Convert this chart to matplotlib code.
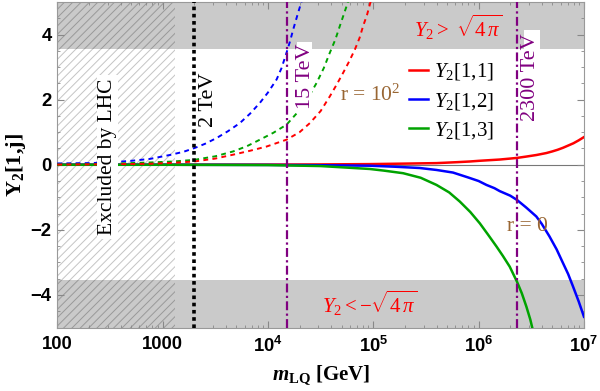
import numpy as np
import matplotlib
matplotlib.use("Agg")
import matplotlib.pyplot as plt
from matplotlib.patches import Rectangle
from matplotlib.ticker import FixedLocator, FixedFormatter, LogLocator, MultipleLocator, NullFormatter

plt.rcParams['mathtext.fontset'] = 'custom'
plt.rcParams['mathtext.rm'] = 'Liberation Serif'
plt.rcParams['mathtext.it'] = 'Liberation Serif:italic'
plt.rcParams['mathtext.bf'] = 'Liberation Sans:bold'
plt.rcParams['mathtext.bfit'] = 'Liberation Serif:italic:bold'
plt.rcParams['mathtext.sf'] = 'Liberation Serif:bold'
plt.rcParams['hatch.linewidth'] = 0.7

# ---------------- data ----------------
# r = 0 (solid)
m_r0_11 = [100, 1000, 1e4, 3.16e4, 9.27e4, 2.0e5, 3.98e5, 6.31e5, 8.24e5, 1e6, 1.259e6, 1.585e6,
           1.995e6, 2.31e6, 2.818e6, 3.548e6, 4.40e6, 5.01e6, 5.62e6, 6.31e6, 7.08e6, 7.94e6, 8.91e6, 1e7]
y_r0_11 = [0, 0, 0.005, 0.01, 0.02, 0.035, 0.05, 0.08, 0.10, 0.12, 0.14, 0.16,
           0.19, 0.21, 0.25, 0.30, 0.36, 0.41, 0.46, 0.52, 0.59, 0.66, 0.75, 0.85]

m_r0_12 = [100, 1000, 1e4, 3.16e4, 9.27e4, 1.585e5, 2.76e5, 3.98e5, 5.71e5, 7.94e5, 1e6, 1.186e6, 1.413e6,
           1.585e6, 1.995e6, 2.31e6, 2.818e6, 3.53e6, 3.98e6, 4.70e6, 5.50e6, 6.32e6, 7.08e6, 7.87e6, 8.91e6, 1e7]
y_r0_12 = [0, 0, -0.005, -0.015, -0.03, -0.06, -0.10, -0.16, -0.24, -0.39, -0.50, -0.62, -0.72,
           -0.81, -0.95, -1.08, -1.31, -1.59, -1.82, -2.2, -2.6, -3.02, -3.36, -3.74, -4.2, -4.67]

m_r0_13 = [100, 1000, 1e4, 3.16e4, 9.27e4, 1.259e5, 1.92e5, 2.818e5, 3.98e5, 5.25e5, 6.62e5, 8.32e5, 1.026e6,
           1.230e6, 1.476e6, 1.698e6, 1.972e6, 2.31e6, 2.57e6, 2.84e6, 3.09e6, 3.236e6]
y_r0_13 = [0, 0, -0.01, -0.04, -0.13, -0.18, -0.26, -0.40, -0.62, -0.85, -1.13, -1.45, -1.8,
           -2.15, -2.51, -2.8, -3.13, -3.59, -3.95, -4.36, -4.75, -5.02]

# r = 10^2 (dashed)
m_r2_12 = [100, 200, 316, 501, 759, 1172, 1585, 1995, 2512, 3251, 4169, 5408, 6761, 8375, 1e4,
           12078, 13490, 15000, 16220, 17338, 19050, 20840]
y_r2_12 = [0.04, 0.05, 0.07, 0.12, 0.18, 0.30, 0.40, 0.51, 0.64, 0.82, 1.03, 1.28, 1.57, 1.90, 2.22,
           2.62, 2.98, 3.44, 3.8, 4.15, 4.6, 5.02]

m_r2_13 = [100, 316, 759, 1259, 1995, 3162, 4677, 6310, 8375, 11220, 15000, 20090, 23990, 28900,
           33880, 38640, 43650, 48080, 55720, 57540]
y_r2_13 = [0.01, 0.03, 0.07, 0.10, 0.15, 0.26, 0.41, 0.57, 0.77, 0.98, 1.23, 1.69, 2.05, 2.51,
           2.97, 3.44, 3.85, 4.26, 4.87, 5.02]

m_r2_11 = [100, 316, 759, 1259, 1995, 3162, 4677, 6761, 9705, 15000, 19950, 25000, 31620, 38640,
           44670, 51640, 58880, 66830, 74130, 79980, 87100, 92680, 94410]
y_r2_11 = [0.005, 0.015, 0.03, 0.06, 0.10, 0.19, 0.31, 0.43, 0.56, 0.77, 1.0, 1.28, 1.65, 2.1,
           2.45, 2.82, 3.17, 3.54, 3.9, 4.26, 4.6, 4.92, 5.02]

legend_labels = [r'$Y_2$[1,1]', r'$Y_2$[1,2]', r'$Y_2$[1,3]']
m_lhc = 1300.0
m_lines = [2000.0, 15000.0, 2.3e6]
pert = np.sqrt(4 * np.pi)
xtick_vals = [100, 1000, 1e4, 1e5, 1e6, 1e7]
xtick_labels = ['100', '1000', r'$\mathbf{10^{4}}$', r'$\mathbf{10^{5}}$', r'$\mathbf{10^{6}}$', r'$\mathbf{10^{7}}$']
ytick_vals = [-4, -2, 0, 2, 4]
ytick_labels = ['\u22124', '\u22122', '0', '2', '4']

RED = '#ff0000'
BLUE = '#0000ff'
GREEN = '#00a300'
PURPLE = '#800080'
BROWN = '#996633'
SERIF = 'Liberation Serif'
W, H = 600, 391

fig = plt.figure(figsize=(6, 3.91), dpi=100)
ax = fig.add_axes([0.0955, 0.1624, 0.8778, 0.8325])
ax.set_xscale('log')
ax.set_xlim(100, 1e7)
ax.set_ylim(-5, 5)

# bands
ax.axhspan(pert, 5, color='#cacaca', lw=0, zorder=0)
ax.axhspan(-5, -pert, color='#cacaca', lw=0, zorder=0)
# hatched LHC region (light on white, darker on the grey bands)
ax.fill_between([100, m_lhc], -pert, pert, facecolor='none', edgecolor='#c4c4c4',
                hatch='////', lw=0, zorder=0.5)
ax.fill_between([100, m_lhc], pert, 5, facecolor='none', edgecolor='#999999',
                hatch='////', lw=0, zorder=0.6)
ax.fill_between([100, m_lhc], -5, -pert, facecolor='none', edgecolor='#999999',
                hatch='////', lw=0, zorder=0.6)

ax.axhline(0, color='#777777', lw=0.8, zorder=1)

# curves
ax.plot(m_r0_11, y_r0_11, color=RED, lw=1.8, zorder=3, label=legend_labels[0])
ax.plot(m_r0_12, y_r0_12, color=BLUE, lw=1.8, zorder=3, label=legend_labels[1])
ax.plot(m_r0_13, y_r0_13, color=GREEN, lw=1.8, zorder=3, label=legend_labels[2])
dash = (0, (2.5, 2.2))
ax.plot(m_r2_12, y_r2_12, color=BLUE, lw=1.4, ls=dash, zorder=3)
ax.plot(m_r2_13, y_r2_13, color=GREEN, lw=1.4, ls=dash, zorder=3)
ax.plot(m_r2_11, y_r2_11, color=RED, lw=1.4, ls=dash, zorder=3)

# vertical lines
ax.axvline(m_lines[0], color='black', lw=2.6, ls=(0, (1, 1)), zorder=4)
ax.axvline(m_lines[1], color=PURPLE, lw=1.6, ls=(0, (4, 1.5, 1, 1.5)), zorder=4)
ax.axvline(m_lines[2], color=PURPLE, lw=1.6, ls=(0, (4, 1.5, 1, 1.5)), zorder=4)

# white label boxes (pixel boxes: x0, x1, y0, y1 from top)
def white_box(x0, x1, y0, y1):
    r = Rectangle((x0 / W, 1 - y1 / H), (x1 - x0) / W, (y1 - y0) / H, transform=fig.transFigure,
                  facecolor='white', edgecolor='none', zorder=4.5, clip_on=False)
    ax.add_patch(r)

white_box(97, 118, 75, 239)
white_box(296.7, 312.3, 42, 114)
white_box(523.5, 540, 30, 126)

# texts
ax.text(297, 0.25, 'Excluded by LHC', rotation=90, ha='center', va='center',
        family=SERIF, fontsize=15.5, zorder=5)
ax.text(2750, 2.0, '2 TeV', rotation=90, ha='center', va='center', family=SERIF, fontsize=16, zorder=5)
ax.text(2.25e4, 2.71, '15 TeV', rotation=90, ha='center', va='center', family=SERIF,
        fontsize=16, color=PURPLE, zorder=5)
ax.text(3.12e6, 2.68, '2300 TeV', rotation=90, ha='center', va='center', family=SERIF,
        fontsize=16, color=PURPLE, zorder=5)
ax.text(6.47e5, 4.22, r'$Y_2 >\ \sqrt{4\,\pi}$', ha='center', va='center', fontsize=15, color=RED, zorder=5)
ax.text(9.27e4, -4.25, r'$Y_2 <-\sqrt{4\,\pi}$', ha='center', va='center', fontsize=15, color=RED, zorder=5)
ax.text(9.27e4, 2.15, r'r = 10$^2$', ha='center', va='center', family=SERIF, fontsize=15.5, color=BROWN, zorder=5)
ax.text(2.93e6, -1.91, 'r = 0', ha='center', va='center', family=SERIF, fontsize=15.5, color=BROWN, zorder=5)

leg = ax.legend(loc='center', bbox_to_anchor=(0.752, 0.741), bbox_transform=fig.transFigure,
                frameon=False, prop={'family': SERIF, 'size': 15},
                handlelength=0.9, handletextpad=0.3, labelspacing=0.4, borderpad=0)

# ticks
ax.xaxis.set_major_locator(FixedLocator(xtick_vals))
ax.xaxis.set_major_formatter(FixedFormatter(xtick_labels))
ax.xaxis.set_minor_locator(LogLocator(base=10, subs=np.arange(2, 10), numticks=20))
ax.xaxis.set_minor_formatter(NullFormatter())
ax.yaxis.set_major_locator(FixedLocator(ytick_vals))
ax.yaxis.set_major_formatter(FixedFormatter(ytick_labels))
ax.yaxis.set_minor_locator(MultipleLocator(0.5))
ax.tick_params(which='both', direction='in', top=True, right=True, color='#888888')
ax.tick_params(which='major', length=5, width=0.8)
ax.tick_params(which='minor', length=2.5, width=0.6)
for lab in ax.get_xticklabels() + ax.get_yticklabels():
    lab.set_family('Liberation Sans')
    lab.set_fontweight('bold')
    lab.set_fontsize(13.3)
ax.tick_params(axis='x', pad=6)
ax.tick_params(axis='y', pad=4)
for s in ax.spines.values():
    s.set_color('#999999')
    s.set_linewidth(0.8)

ax.set_xlabel(r'$\mathbfit{m}_{\mathsf{LQ}}$ [GeV]', family=SERIF, fontweight='bold', fontsize=15, labelpad=5)
ax.set_ylabel(r'Y$_{\mathsf{2}}$[1,j]', family=SERIF, fontweight='bold', fontsize=16, labelpad=2)

fig.savefig('out.png', dpi=100)
